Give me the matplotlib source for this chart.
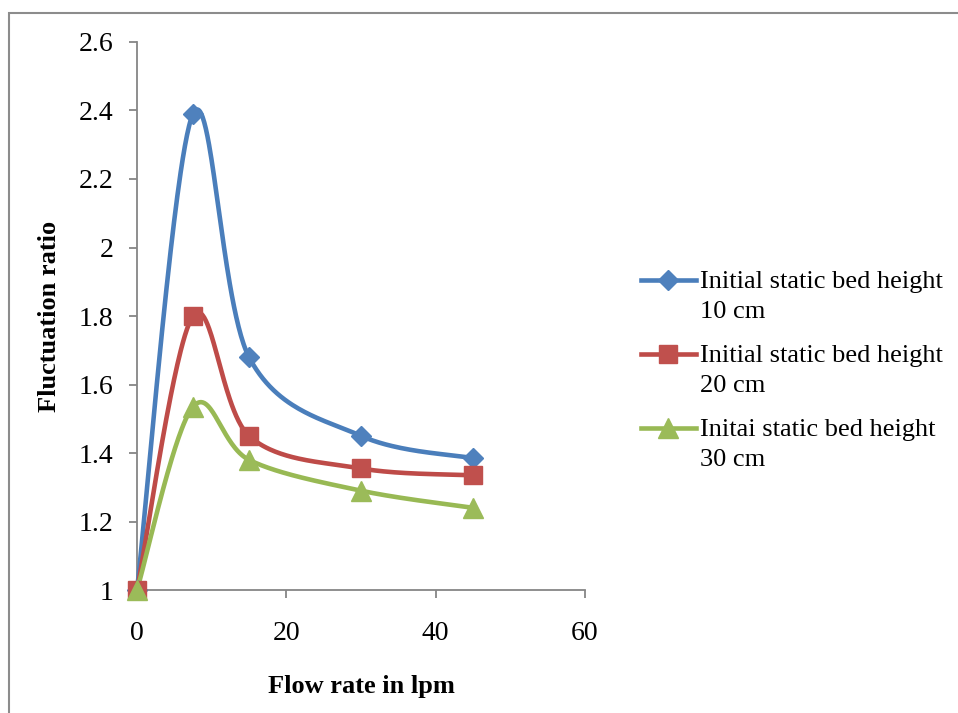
import matplotlib

matplotlib.use("Agg")
import matplotlib.pyplot as plt
import numpy as np
from matplotlib.legend_handler import HandlerLine2D
from matplotlib.lines import Line2D
from matplotlib.patches import Rectangle

# data
flow_rate = [0, 7.5, 15, 30, 45]
ratio_10cm = [1.0, 2.39, 1.68, 1.45, 1.385]
ratio_20cm = [1.0, 1.80, 1.45, 1.355, 1.335]
ratio_30cm = [1.0, 1.535, 1.38, 1.29, 1.24]
series_labels = [
    "Initial static bed height\n10 cm",
    "Initial static bed height\n20 cm",
    "Initai static bed height\n30 cm",
]
x_ticks = [0, 20, 40, 60]
y_ticks = [1, 1.2, 1.4, 1.6, 1.8, 2, 2.2, 2.4, 2.6]

LINE_COLORS = ["#4A7EBB", "#BE4B48", "#98B954"]
MARK_COLORS = ["#4F81BD", "#C0504D", "#9BBB59"]
MARKERS = [("D", 10.5), ("s", 13), ("^", 15)]
SPINE = "#868686"
LEG_FS = 19

plt.rcParams["font.family"] = ["Liberation Serif", "DejaVu Serif"]

# px per data unit, used so the smoothing happens in screen-like space
SX, SY = 448 / 60, 548 / 1.6


def smooth(xs, ys, n=60):
    """Catmull-Rom style bezier smoothing, like spreadsheet 'smoothed line'."""
    p = np.column_stack([np.asarray(xs) * SX, np.asarray(ys) * SY])
    out = []
    for i in range(len(p) - 1):
        p0 = p[i - 1] if i > 0 else p[i]
        p1, p2 = p[i], p[i + 1]
        p3 = p[i + 2] if i + 2 < len(p) else p[i + 1]
        c1 = p1 + (p2 - p0) / 6
        c2 = p2 - (p3 - p1) / 6
        t = np.linspace(0, 1, n)[:, None]
        seg = ((1 - t) ** 3) * p1 + 3 * ((1 - t) ** 2) * t * c1 \
            + 3 * (1 - t) * t ** 2 * c2 + t ** 3 * p2
        out.append(seg if i == 0 else seg[1:])
    pts = np.vstack(out)
    return pts[:, 0] / SX, pts[:, 1] / SY


class FirstLineHandler(HandlerLine2D):
    """Put the legend handle next to the first line of a two-line label."""

    def create_artists(self, legend, orig_handle, xdescent, ydescent,
                       width, height, fontsize, trans):
        arts = super().create_artists(legend, orig_handle, xdescent, ydescent,
                                      width, height, fontsize, trans)
        for a in arts:
            a.set_ydata(np.asarray(a.get_ydata()) + fontsize * 0.62)
        return arts


fig = plt.figure(figsize=(9.58, 7.13), dpi=100)
ax = fig.add_axes([0.143, 0.1725, 0.4676, 0.7686])

handles = []
for ys, lab, lc, mc, (mk, ms) in zip(
        [ratio_10cm, ratio_20cm, ratio_30cm], series_labels,
        LINE_COLORS, MARK_COLORS, MARKERS):
    sx, sy = smooth(flow_rate, ys)
    ax.plot(sx, sy, color=lc, lw=3.3, solid_capstyle="round", zorder=3,
            clip_on=False)
    ax.plot(flow_rate, ys, ls="none", marker=mk, ms=ms, color=mc,
            mec=mc, mew=1, zorder=4, clip_on=False)
    handles.append(Line2D([], [], color=lc, lw=3.3, marker=mk, ms=ms,
                          mfc=mc, mec=mc, label=lab))

ax.set_xlim(0, 60)
ax.set_ylim(1, 2.6)
ax.set_xticks(x_ticks)
ax.set_xticklabels([str(v) for v in x_ticks])
ax.set_yticks(y_ticks)
ax.set_yticklabels([f"{v:g}" for v in y_ticks])

for s in ("top", "right"):
    ax.spines[s].set_visible(False)
for s in ("left", "bottom"):
    ax.spines[s].set_color(SPINE)
    ax.spines[s].set_linewidth(1.3)
ax.tick_params(axis="both", direction="out", length=6, width=1.3,
               color=SPINE, labelsize=20, labelcolor="black")
ax.tick_params(axis="y", pad=11)
ax.tick_params(axis="x", pad=16)

ax.set_xlabel("Flow rate in lpm", fontsize=19, fontweight="bold", labelpad=21)
ax.set_ylabel("Fluctuation ratio", fontsize=19, fontweight="bold", labelpad=13)

leg = fig.legend(handles=handles, loc="upper left",
                 bbox_to_anchor=(0.655, 0.638),
                 frameon=False, fontsize=LEG_FS, handlelength=2.1,
                 handletextpad=0.15, labelspacing=0.84, borderpad=0,
                 handler_map={Line2D: FirstLineHandler()})
for t in leg.get_texts():
    t.set_linespacing(1.45)

# chart-area border (only top and left edges fall inside the picture)
fig.add_artist(Rectangle((9 / 958, -0.2), 1.2, 0.2 + (1 - 13 / 713),
                         transform=fig.transFigure, fill=False,
                         edgecolor="#8C8C8C", lw=1.5, clip_on=False))

fig.savefig("out.png", dpi=100)
